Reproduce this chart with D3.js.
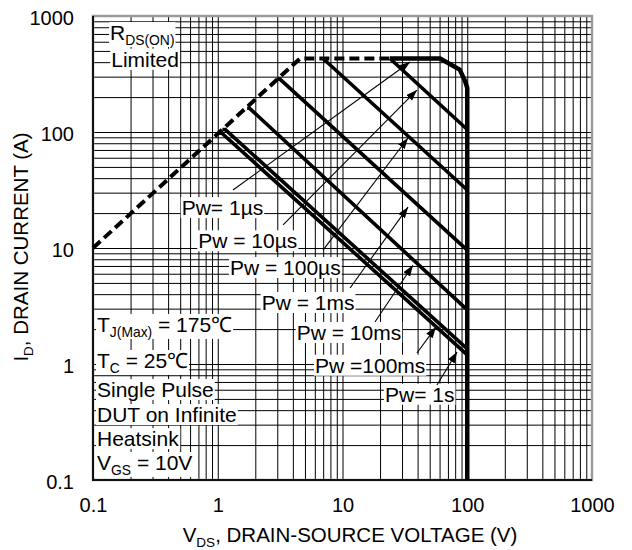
<!DOCTYPE html>
<html>
<head>
<meta charset="utf-8">
<script src="https://cdn.jsdelivr.net/npm/d3@7"></script>
<style>
  body { margin: 0; background: #fff; }
  text { font-family: "Liberation Sans", Arial, sans-serif; fill: #000; }
</style>
</head>
<body>
<script>
// axis ticks
const tickValues = [0.1, 1, 10, 100, 1000];
const tickLabels = ["0.1", "1", "10", "100", "1000"];

// SOA curves, [VDS (V), ID (A)]
const rdsLimit = [[0.1, 10], [4.56, 430], [24, 430]];
const envelope = [[24, 430], [60.5, 430], [87, 345], [96, 275], [100, 240], [100, 0.1]];
const pw1us = [[24, 430], [100, 105]];
const pw10us = [[6.98, 430], [100, 31.6]];
const pw100us = [[3.0, 286], [3.15, 286], [100, 9.6]];
const pw1ms = [[1.72, 160], [1.8, 160], [100, 2.93]];
const pw10ms = [[1.09, 105], [1.15, 105], [100, 1.35]];
const pw100ms = [[1.02, 97.5], [1.08, 97.5], [100, 1.2]];

// label text and arrows (from label to curve), in V / A
const pwLabels = ["Pw= 1\u00b5s", "Pw = 10\u00b5s", "Pw = 100\u00b5s", "Pw = 1ms", "Pw = 10ms", "Pw =100ms", "Pw= 1s"];
const pwAnchors = [[0.514, 19.2], [0.698, 9.94], [1.253, 5.85], [2.25, 2.92], [4.3, 1.61], [6.02, 0.841], [21.9, 0.473]];
const arrowFrom = [[1.325, 31.6], [3.34, 15.8], [6.98, 9.6], [11.5, 4.52], [18.2, 2.3], [39.5, 1.245], [57.2, 0.659]];
const arrowTo = [[34.8, 401], [39.5, 230], [33.5, 88.7], [33.5, 22.5], [36.7, 7.1], [56.1, 2.08], [82.8, 1.27]];

const conditions = [
    [["T", 0], ["J(Max)", 1], [" = 175\u2103", 0]],
    [["T", 0], ["C", 1], [" = 25\u2103", 0]],
    [["Single Pulse", 0]],
    [["DUT on Infinite", 0]],
    [["Heatsink", 0]],
    [["V", 0], ["GS", 1], [" = 10V", 0]],
];
const conditionY = [1.89, 0.924, 0.519, 0.316, 0.196, 0.122];

const W = 632, H = 550;
const plotL = 93, plotR = 592, plotT = 16, plotB = 480;
const labelSize = 21;

const svg = d3.select("body").append("svg").attr("width", W).attr("height", H);

const x = d3.scaleLog().domain([0.1, 1000]).range([plotL, plotR]);
const y = d3.scaleLog().domain([0.1, 1000]).range([plotB, plotT]);

// grid
const gridG = svg.append("g");
gridG.append("g")
    .attr("transform", `translate(0,${plotB})`)
    .call(d3.axisBottom(x).tickValues(x.ticks()).tickSize(-(plotB - plotT)).tickFormat(""))
    .call(g => g.select(".domain").remove());
gridG.append("g")
    .attr("transform", `translate(${plotL},0)`)
    .call(d3.axisLeft(y).tickValues(y.ticks()).tickSize(-(plotR - plotL)).tickFormat(""))
    .call(g => g.select(".domain").remove());
gridG.selectAll(".tick line").attr("stroke", "#000").attr("stroke-width", 1);

// frame
svg.append("rect")
    .attr("x", plotL).attr("y", plotT)
    .attr("width", plotR - plotL).attr("height", plotB - plotT)
    .attr("fill", "none").attr("stroke", "#9a9a9a").attr("stroke-width", 2.5);
svg.append("path")
    .attr("d", `M${plotL},${plotT}V${plotB}H${plotR}`)
    .attr("fill", "none").attr("stroke", "#111").attr("stroke-width", 2);

// tick labels
const xAxis = svg.append("g")
    .attr("transform", `translate(0,${plotB})`)
    .call(d3.axisBottom(x).tickValues(tickValues).tickSize(0).tickFormat((d, i) => tickLabels[i]));
xAxis.select(".domain").remove();
xAxis.selectAll("text").attr("y", 0).attr("dy", 32).attr("font-size", 20)
    .style("font-family", "'Liberation Sans', Arial, sans-serif").attr("fill", "#000");

const yAxis = svg.append("g")
    .attr("transform", `translate(${plotL},0)`)
    .call(d3.axisLeft(y).tickValues(tickValues).tickSize(0).tickFormat((d, i) => tickLabels[i]));
yAxis.select(".domain").remove();
yAxis.selectAll("text").attr("x", -19).attr("dy", 8).attr("font-size", 20)
    .style("font-family", "'Liberation Sans', Arial, sans-serif").attr("fill", "#000");

// text with subscript parts
function richText(g, parts, size) {
    const t = g.append("text").attr("font-size", size);
    let shifted = false;
    parts.forEach(([s, sub]) => {
        const ts = t.append("tspan").text(s);
        if (sub && !shifted) { ts.attr("font-size", size * 0.66).attr("dy", 5); shifted = true; }
        else if (!sub && shifted) { ts.attr("dy", -5); shifted = false; }
    });
    return t;
}

// axis titles
const xt = richText(svg, [["V", 0], ["DS", 1], [", DRAIN-SOURCE VOLTAGE (V)", 0]], 20.5);
xt.attr("x", 350).attr("y", 542).attr("text-anchor", "middle");

const yt = richText(svg.append("g").attr("transform", "translate(28,247) rotate(-90)"),
    [["I", 0], ["D", 1], [", DRAIN CURRENT (A)", 0]], 20.5);
yt.attr("text-anchor", "middle");

// label boxes + text
const labelG = svg.append("g");
function boxedText(parts, px, py) {
    const g = labelG.append("g");
    const t = richText(g, parts, labelSize).attr("x", px).attr("y", py);
    const bb = t.node().getBBox();
    g.insert("rect", "text")
        .attr("x", bb.x - 1).attr("y", bb.y + 1)
        .attr("width", bb.width + 2).attr("height", bb.height - 2)
        .attr("fill", "#fff");
    return g;
}

boxedText([["R", 0], ["DS(ON)", 1]], x(0.137), y(620));
boxedText([["Limited", 0]], x(0.14), y(365));
conditions.forEach((parts, i) => boxedText(parts, x(0.1077), y(conditionY[i])));
pwLabels.forEach((s, i) => boxedText([[s, 0]], x(pwAnchors[i][0]), y(pwAnchors[i][1])));

// curves
const line = d3.line().x(d => x(d[0])).y(d => y(d[1]));
const curveG = svg.append("g").attr("fill", "none").attr("stroke", "#000");

curveG.append("path").attr("d", line(rdsLimit))
    .attr("stroke-width", 4).attr("stroke-dasharray", "10,5");
curveG.append("path").attr("d", line(envelope))
    .attr("stroke-width", 4.5).attr("stroke-linejoin", "round");
[pw1us, pw10us, pw100us, pw1ms, pw10ms, pw100ms].forEach(c => {
    curveG.append("path").attr("d", line(c)).attr("stroke-width", 3.6);
});

// arrows
svg.append("defs").append("marker")
    .attr("id", "arrow")
    .attr("markerUnits", "userSpaceOnUse")
    .attr("markerWidth", 12).attr("markerHeight", 10)
    .attr("refX", 11).attr("refY", 4)
    .attr("orient", "auto")
    .append("path").attr("d", "M0,0L11,4L0,8Z").attr("fill", "#000");

svg.append("g").selectAll("line")
    .data(arrowFrom)
    .join("line")
    .attr("x1", d => x(d[0])).attr("y1", d => y(d[1]))
    .attr("x2", (d, i) => x(arrowTo[i][0])).attr("y2", (d, i) => y(arrowTo[i][1]))
    .attr("stroke", "#000").attr("stroke-width", 1.1)
    .attr("marker-end", "url(#arrow)");
</script>
</body>
</html>
